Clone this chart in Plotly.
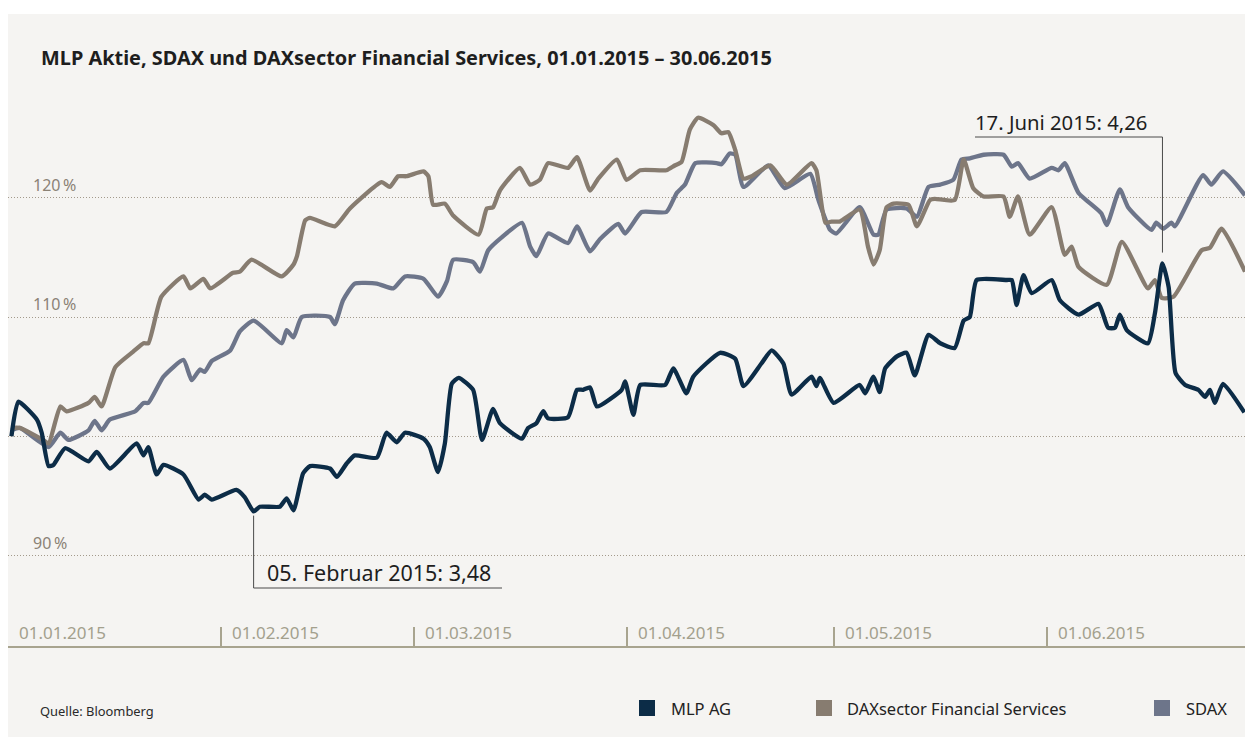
import pandas as pd
import plotly.graph_objects as go

# ---------------- data (days since 01.01.2015, index 01.01.2015 = 100) ----------------
mlp_days = [0.5, 1.5, 4.2, 4.9, 5.9, 6.6, 8.3, 11.7, 12.9, 14.8, 18.7, 19.7, 20.4, 21.6, 22.6,
            25.5, 27.7, 28.6, 29.6, 33.2, 34.4, 35.7, 36.6, 39.5, 40.5, 41.5, 42.9, 43.9, 46.8,
            47.8, 49.2, 50.4, 53.6, 55.0, 56.5, 57.7, 60.4, 61.3, 62.5, 63.5, 64.5, 65.5, 67.6,
            68.9, 70.5, 71.5, 74.7, 75.6, 76.8, 77.8, 78.5, 81.4, 82.7, 83.6, 84.6, 85.6, 89.2,
            89.7, 90.9, 91.9, 95.5, 96.7, 98.6, 99.6, 103.5, 105.7, 106.9, 109.5, 111.0, 112.7,
            113.9, 116.8, 117.5, 118.0, 120.0, 123.8, 124.6, 125.8, 126.7, 127.5, 129.2, 130.6,
            131.8, 133.8, 135.5, 137.6, 138.9, 139.8, 140.8, 145.2, 145.9, 146.6, 147.6, 148.8,
            151.7, 152.9, 155.6, 158.5, 159.9, 160.9, 161.6, 162.6, 165.7, 166.7, 167.8, 168.7,
            169.7, 171.1, 173.0, 174.0, 174.7, 175.4, 176.6, 179.7]
mlp_vals = [100.0, 102.9, 101.4, 100.3, 97.5, 97.6, 99.0, 97.9, 98.7, 97.3, 99.4, 98.4, 99.1, 96.8,
            97.6, 96.8, 94.7, 95.1, 94.7, 95.5, 94.9, 93.7, 94.1, 94.1, 94.8, 93.8, 96.9, 97.5,
            97.3, 96.6, 97.7, 98.4, 98.2, 100.3, 99.5, 100.3, 99.8, 99.1, 97.0, 99.4, 104.4,
            104.9, 103.9, 99.7, 102.3, 101.1, 99.8, 100.7, 101.1, 102.1, 101.5, 101.6, 103.9,
            103.9, 104.1, 102.5, 103.9, 104.6, 101.8, 104.3, 104.3, 105.7, 103.6, 105.0, 107.0,
            106.5, 104.2, 106.1, 107.2, 106.1, 103.5, 105.0, 104.2, 104.9, 102.8, 104.3, 103.6,
            105.0, 103.7, 105.7, 106.7, 107.0, 105.1, 108.5, 107.8, 107.4, 109.7, 110.0, 113.1,
            113.1, 113.1, 111.0, 113.5, 112.0, 113.1, 111.4, 110.2, 111.1, 109.1, 109.1, 110.2,
            108.9, 107.8, 110.3, 114.5, 112.5, 105.3, 104.3, 103.9, 103.3, 103.9, 102.8, 104.4,
            102.0]

dax_days = [0.5, 1.7, 5.1, 5.9, 7.6, 8.5, 11.7, 12.6, 13.6, 15.6, 18.2, 19.7, 20.4, 22.3, 25.5,
            26.5, 28.4, 29.4, 32.7, 33.7, 35.4, 39.8, 41.5, 42.0, 43.2, 43.9, 47.5, 49.7, 54.3,
            55.5, 56.7, 57.9, 60.4, 61.1, 61.8, 63.5, 64.7, 68.4, 69.6, 70.5, 71.5, 74.4, 75.9,
            77.3, 78.5, 81.4, 82.7, 84.6, 85.8, 88.5, 89.9, 91.9, 95.7, 96.9, 97.9, 99.1, 100.3,
            102.5, 103.7, 104.7, 105.7, 106.9, 108.1, 110.8, 113.2, 116.8, 117.5, 118.8, 119.7,
            120.9, 123.8, 125.0, 125.8, 126.7, 127.7, 128.7, 130.9, 132.1, 134.0, 134.7, 137.6,
            138.9, 140.3, 141.8, 144.7, 145.6, 146.8, 148.5, 151.7, 153.6, 154.6, 155.6, 159.7,
            161.9, 165.7, 166.7, 167.7, 169.4, 173.5, 174.7, 176.4, 179.8]
dax_vals = [100.7, 100.7, 99.7, 99.4, 102.5, 102.1, 102.8, 103.3, 102.5, 105.8, 107.1, 107.8,
            107.8, 111.7, 113.4, 112.4, 113.2, 112.4, 113.7, 113.8, 114.8, 113.4, 114.4, 115.1,
            118.1, 118.3, 117.6, 119.1, 121.3, 120.9, 121.8, 121.8, 122.2, 121.8, 119.4, 119.5,
            118.5, 116.9, 119.1, 119.2, 120.6, 122.5, 121.1, 121.5, 122.9, 122.5, 123.4, 120.6,
            121.6, 123.2, 121.5, 122.3, 122.3, 122.7, 123.0, 125.7, 126.7, 126.1, 125.4, 125.5,
            124.0, 121.6, 121.8, 122.7, 121.1, 122.9, 122.3, 117.9, 118.0, 118.0, 119.0, 115.9,
            114.4, 115.6, 119.2, 119.5, 119.4, 117.6, 119.8, 119.9, 119.8, 123.2, 120.8, 120.1,
            120.1, 118.4, 120.1, 116.9, 119.2, 115.2, 115.9, 114.2, 112.7, 116.3, 112.4, 113.1,
            111.6, 111.7, 115.6, 115.8, 117.4, 113.8]

sdax_days = [0.5, 1.7, 5.9, 7.6, 8.8, 11.7, 12.6, 13.6, 14.8, 18.5, 19.7, 20.4, 22.6, 25.5, 26.7,
             27.9, 28.6, 29.6, 32.3, 33.7, 35.7, 39.8, 40.5, 41.5, 42.7, 46.8, 47.5, 48.7, 50.4,
             53.6, 56.0, 57.7, 60.4, 62.5, 63.8, 64.7, 67.6, 68.6, 69.8, 71.8, 74.7, 75.9, 76.8,
             78.5, 81.4, 82.7, 84.6, 86.0, 88.7, 89.7, 92.1, 95.7, 97.2, 98.4, 99.9, 103.0, 103.7,
             104.9, 105.7, 106.9, 110.5, 112.9, 116.6, 117.8, 119.5, 120.4, 123.8, 125.8, 126.5,
             127.7, 130.6, 132.1, 133.8, 135.5, 137.4, 138.6, 139.8, 141.8, 144.7, 145.9, 146.8,
             148.5, 151.7, 152.7, 153.6, 155.6, 158.9, 159.7, 161.6, 162.8, 166.2, 166.9, 167.9,
             169.1, 169.6, 173.7, 174.9, 176.6, 179.8]
sdax_vals = [100.5, 100.7, 99.1, 100.3, 99.7, 100.5, 101.3, 100.5, 101.4, 102.1, 102.8, 102.8,
             105.0, 106.4, 104.7, 105.6, 105.4, 106.3, 107.2, 108.8, 109.7, 107.8, 108.9, 108.3,
             110.0, 110.0, 109.4, 111.4, 112.8, 112.8, 112.4, 113.4, 113.2, 111.7, 113.0, 114.8,
             114.6, 113.8, 115.6, 116.7, 117.9, 115.9, 115.1, 117.0, 116.2, 117.6, 115.5, 116.5,
             117.8, 117.0, 118.8, 118.8, 120.4, 121.1, 122.9, 122.9, 122.8, 123.7, 123.6, 120.9,
             122.7, 120.8, 122.0, 119.8, 117.3, 117.0, 119.2, 116.9, 116.9, 119.0, 119.1, 118.4,
             120.9, 121.1, 121.5, 123.2, 123.3, 123.6, 123.6, 122.6, 122.9, 121.6, 122.5, 122.3,
             122.9, 120.4, 118.7, 117.7, 120.7, 119.2, 117.3, 117.9, 117.4, 117.9, 117.6, 121.9,
             121.1, 122.2, 120.2]

series_names = ["MLP AG", "DAXsector Financial Services", "SDAX"]
series_colors = ["#0c2c47", "#877c70", "#6d758a"]

month_ticks = ["2015-01-01", "2015-02-01", "2015-03-01", "2015-04-01", "2015-05-01", "2015-06-01"]
month_labels = ["01.01.2015", "01.02.2015", "01.03.2015", "01.04.2015", "01.05.2015", "01.06.2015"]
y_label_vals = [90, 110, 120]
y_grid_vals = [90, 100, 110, 120]

title_text = "MLP Aktie, SDAX und DAXsector Financial Services, 01.01.2015 \u2013 30.06.2015"
low_label = "05. Februar 2015: 3,48"
high_label = "17. Juni 2015: 4,26"
source_text = "Quelle: Bloomberg"

# ---------------- figure ----------------
W, H = 1245, 737
ML, MR, MT, MB = 8, 0, 14, 91
PW, PH = W - ML - MR, H - MT - MB
start = pd.Timestamp("2015-01-01")


def to_dates(days):
    return [start + pd.Timedelta(days=d) for d in days]


def pxx(px):
    return (px - ML) / PW


def pxy(py):
    return (H - MB - py) / PH


BG = "#f5f4f2"
FONT = "Noto Sans"
fig = go.Figure()

# draw SDAX first, then DAX, then MLP on top
order = [(sdax_days, sdax_vals, 2), (dax_days, dax_vals, 1), (mlp_days, mlp_vals, 0)]
for days, vals, i in order:
    fig.add_trace(go.Scatter(
        x=to_dates(days), y=vals, mode="lines", name=series_names[i],
        line=dict(color=series_colors[i], width=4.3, shape="spline", smoothing=0.5),
        hoverinfo="skip", showlegend=False))

shapes = []
annotations = []

# panel background below plot area
shapes.append(dict(type="rect", xref="paper", yref="paper", x0=0, x1=1,
                   y0=pxy(H), y1=1, fillcolor=BG, line=dict(width=0), layer="below"))

# title
annotations.append(dict(text="<b>" + title_text + "</b>", xref="paper", yref="paper",
                        x=pxx(39), y=pxy(57), xanchor="left", yanchor="middle",
                        showarrow=False, font=dict(family=FONT, size=19.9, color="#1e1e1e")))

# y labels
for v in y_label_vals:
    annotations.append(dict(text=f"{v}\u202f%", xref="paper", yref="y", x=pxx(31), y=v,
                            xanchor="left", yanchor="middle", yshift=13, showarrow=False,
                            font=dict(family=FONT, size=16, color="#8b8276")))

# x labels
for d, lab in zip(month_ticks, month_labels):
    annotations.append(dict(text=lab, xref="x", yref="paper", x=d, y=pxy(632),
                            xanchor="left", yanchor="middle", xshift=9, showarrow=False,
                            font=dict(family=FONT, size=17, color="#a3a08d")))

# call-outs: lowest and highest MLP value
i_lo = mlp_vals.index(min(mlp_vals))
i_hi = mlp_vals.index(max(mlp_vals))
d_lo, v_lo = mlp_days[i_lo], mlp_vals[i_lo]
d_hi, v_hi = mlp_days[i_hi], mlp_vals[i_hi]
lo_y = 100 - (588 - 436.3) / 11.93
hi_y = 100 + (436.3 - 137) / 11.93
lo_end = start + pd.Timedelta(days=(502 - ML) / 6.88)
hi_start = start + pd.Timedelta(days=(975 - ML) / 6.88)
cl = dict(color="#4a4a4a", width=1)
shapes.append(dict(type="line", xref="x", yref="y", x0=to_dates([d_lo])[0], x1=to_dates([d_lo])[0],
                   y0=v_lo - 0.35, y1=lo_y, line=cl))
shapes.append(dict(type="line", xref="x", yref="y", x0=to_dates([d_lo])[0], x1=lo_end,
                   y0=lo_y, y1=lo_y, line=cl))
shapes.append(dict(type="line", xref="x", yref="y", x0=to_dates([d_hi])[0], x1=to_dates([d_hi])[0],
                   y0=v_hi + 0.9, y1=hi_y, line=cl))
shapes.append(dict(type="line", xref="x", yref="y", x0=hi_start, x1=to_dates([d_hi])[0],
                   y0=hi_y, y1=hi_y, line=cl))
annotations.append(dict(text=low_label, xref="x", yref="y", x=to_dates([d_lo])[0], y=lo_y,
                        xanchor="left", yanchor="bottom", xshift=11, yshift=-1, showarrow=False,
                        font=dict(family=FONT, size=21.5, color="#1e1e1e")))
annotations.append(dict(text=high_label, xref="x", yref="y", x=hi_start, y=hi_y,
                        xanchor="left", yanchor="bottom", xshift=-2, yshift=-1, showarrow=False,
                        font=dict(family=FONT, size=20.3, color="#1e1e1e")))

# legend (manual)
leg_sq_x = [639, 816, 1154]
leg_tx_x = [669, 845, 1184]
for i in range(3):
    shapes.append(dict(type="rect", xref="paper", yref="paper",
                       x0=pxx(leg_sq_x[i]), x1=pxx(leg_sq_x[i] + 16),
                       y0=pxy(716), y1=pxy(700), fillcolor=series_colors[i],
                       line=dict(width=0)))
    annotations.append(dict(text=series_names[i], xref="paper", yref="paper",
                            x=pxx(leg_tx_x[i]), y=pxy(708), xanchor="left", yanchor="middle",
                            showarrow=False, font=dict(family=FONT, size=16.5, color="#222222")))

annotations.append(dict(text=source_text, xref="paper", yref="paper", x=pxx(38), y=pxy(711),
                        xanchor="left", yanchor="middle", showarrow=False,
                        font=dict(family=FONT, size=12.9, color="#2a2a2a")))

x_end = start + pd.Timedelta(days=PW / 6.88)
y_lo = 100 - (H - MB - 436.3) / 11.93
y_hi = 100 + (436.3 - MT) / 11.93

fig.update_layout(
    width=W, height=H, margin=dict(l=ML, r=MR, t=MT, b=MB, autoexpand=False),
    paper_bgcolor="white", plot_bgcolor=BG,
    xaxis=dict(range=[start, x_end], showgrid=False, zeroline=False,
               tickvals=month_ticks[1:], ticks="inside", ticklen=19, tickwidth=1.5,
               tickcolor="#a8a48f", showticklabels=False,
               showline=True, linecolor="#a8a48f", linewidth=1.5),
    yaxis=dict(range=[y_lo, y_hi], tickvals=y_grid_vals, showticklabels=False, ticks="",
               showgrid=True, gridcolor="#a39a8c", gridwidth=1, griddash="1px,2px",
               zeroline=False, showline=False),
    shapes=shapes, annotations=annotations, showlegend=False,
)

fig.write_html("out.html")
